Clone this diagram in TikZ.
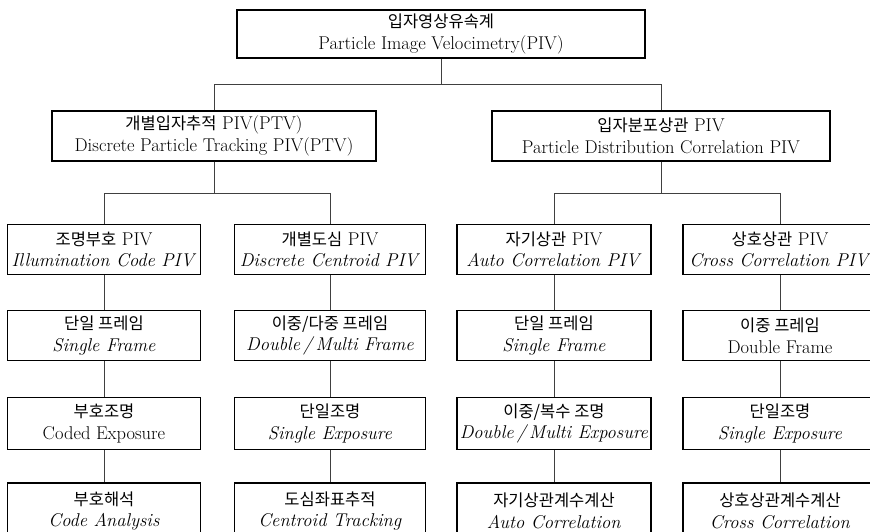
\documentclass[tikz,border=0pt]{standalone}
\usepackage{fontspec}
\newfontfamily\kr{Noto Sans CJK KR}[Scale=1.0]
\begin{document}
\begin{tikzpicture}[x=1pt,y=-1pt,
  box/.style={draw=black,line width=1.4pt,fill=white,rectangle,align=center,inner sep=1pt,
    font=\fontsize{18.5}{21.5}\selectfont},
  conn/.style={draw=black!75,line width=0.8pt}]
\newcommand\krt[1]{{\kr\fontsize{16.5}{21.5}\selectfont #1}}
\useasboundingbox (0,0) rectangle (870,532);
\clip (0,0) rectangle (870,532);
% level 1
\node[box,minimum width=408pt,minimum height=48pt] (top) at (441,34) {\krt{입자영상유속계}\\Particle Image Velocimetry(PIV)};
% level 2
\node[box,minimum width=324pt,minimum height=50pt] (ml) at (214,136) {\krt{개별입자추적} PIV(PTV)\\Discrete Particle Tracking PIV(PTV)};
\node[box,minimum width=338pt,minimum height=50pt] (mr) at (661,136) {\krt{입자분포상관} PIV\\Particle Distribution Correlation PIV};
% level 3
\node[box,minimum width=193pt,minimum height=50pt] (a3) at (104,249.5) {\krt{조명부호} PIV\\\textit{Illumination Code PIV}};
\node[box,minimum width=191pt,minimum height=50pt] (b3) at (330,249.5) {\krt{개별도심} PIV\\\textit{Discrete Centroid PIV}};
\node[box,minimum width=194pt,minimum height=50pt] (c3) at (554,249.5) {\krt{자기상관} PIV\\\textit{Auto Correlation PIV}};
\node[box,minimum width=194pt,minimum height=50pt] (d3) at (780,249.5) {\krt{상호상관} PIV\\\textit{Cross Correlation PIV}};
% level 4
\node[box,minimum width=193pt,minimum height=50pt] (a4) at (104,335.5) {\krt{단일 프레임}\\\textit{Single Frame}};
\node[box,minimum width=191pt,minimum height=50pt] (b4) at (330,335.5) {\krt{이중/다중 프레임}\\\textit{Double\,/\,Multi Frame}};
\node[box,minimum width=194pt,minimum height=50pt] (c4) at (554,335.5) {\krt{단일 프레임}\\\textit{Single Frame}};
\node[box,minimum width=194pt,minimum height=50pt] (d4) at (780,335.5) {\krt{이중 프레임}\\Double Frame};
% level 5
\node[box,minimum width=193pt,minimum height=52pt] (a5) at (104,423.5) {\krt{부호조명}\\Coded Exposure};
\node[box,minimum width=191pt,minimum height=52pt] (b5) at (330,423.5) {\krt{단일조명}\\\textit{Single Exposure}};
\node[box,minimum width=194pt,minimum height=52pt] (c5) at (554,423.5) {\krt{이중/복수 조명}\\\textit{Double\,/\,Multi Exposure}};
\node[box,minimum width=194pt,minimum height=52pt] (d5) at (780,423.5) {\krt{단일조명}\\\textit{Single Exposure}};
% level 6
\node[box,minimum width=193pt,minimum height=56pt] (a6) at (104,511) {\krt{부호해석}\\\textit{Code Analysis}};
\node[box,minimum width=191pt,minimum height=56pt] (b6) at (330,511) {\krt{도심좌표추적}\\\textit{Centroid Tracking}};
\node[box,minimum width=194pt,minimum height=56pt] (c6) at (554,511) {\krt{자기상관계수계산}\\\textit{Auto Correlation}};
\node[box,minimum width=194pt,minimum height=56pt] (d6) at (780,511) {\krt{상호상관계수계산}\\\textit{Cross Correlation}};
% buses
\coordinate (bus1) at (0,84);
\coordinate (bus2) at (0,193);
\draw[conn] (top.south) -- (top.south |- bus1);
\draw[conn] (ml.north) -- (ml.north |- bus1) -| (mr.north);
\draw[conn] (ml.south) -- (ml.south |- bus2);
\draw[conn] (a3.north) -- (a3.north |- bus2) -| (b3.north);
\draw[conn] (mr.south) -- (mr.south |- bus2);
\draw[conn] (c3.north) -- (c3.north |- bus2) -| (d3.north);
% columns
\foreach \c in {a,b,c,d}{
  \draw[conn] (\c3.south) -- (\c4.north);
  \draw[conn] (\c4.south) -- (\c5.north);
  \draw[conn] (\c5.south) -- (\c6.north);
}
\end{tikzpicture}
\end{document}
